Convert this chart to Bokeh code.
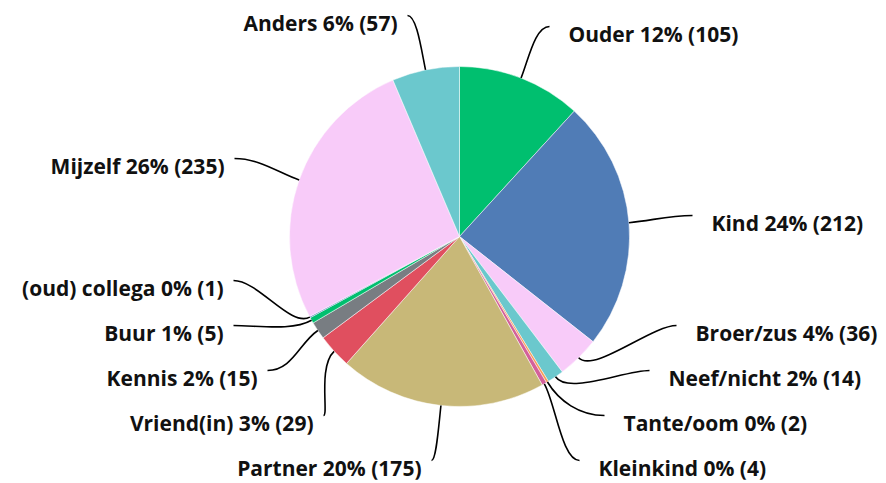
import math
from bokeh.plotting import figure
from bokeh.models import Range1d
from bokeh.core.properties import value
from bokeh.embed import file_html
from bokeh.resources import INLINE

# ---- data ----
categories = ["Ouder", "Kind", "Broer/zus", "Neef/nicht", "Tante/oom", "Kleinkind",
              "Partner", "Vriend(in)", "Kennis", "Buur", "(oud) collega", "Mijzelf", "Anders"]
counts = [105, 212, 36, 14, 2, 4, 175, 29, 15, 5, 1, 235, 57]
colors = ["#00BF6F", "#507CB6", "#F8CBF9", "#6BC8CD", "#F79E56", "#D4609A",
          "#C8B878", "#E04F5F", "#787D82", "#00BF6F", "#507CB6", "#F8CBF9", "#6BC8CD"]

# ---- layout (picture pixel positions of labels) ----
label_px = [568, 711, 695, 668, 623, 598, 421, 313, 257, 223, 223, 224, 397]
label_py = [33, 222, 332, 377, 422, 467, 467, 422, 377, 332, 287, 165, 22]
label_side = ["R", "R", "R", "R", "R", "R", "L", "L", "L", "L", "L", "L", "L"]

W, H = 886, 483
cx_pix, cy_pix, R = 459, 236, 170

def Y(py):
    return H - py

p = figure(width=W, height=H, output_backend="svg", toolbar_location=None,
           x_range=Range1d(0, W), y_range=Range1d(0, H),
           min_border=0)
p.axis.visible = False
p.grid.visible = False
p.outline_line_color = None
p.background_fill_color = "white"

total = sum(counts)
cx, cy = cx_pix, Y(cy_pix)
starts, ends, mids = [], [], []
acc = 0
for c in counts:
    a0 = math.pi / 2 - 2 * math.pi * acc / total
    acc += c
    a1 = math.pi / 2 - 2 * math.pi * acc / total
    starts.append(a0)
    ends.append(a1)
    mids.append((a0 + a1) / 2)

p.wedge(x=[cx] * len(counts), y=[cy] * len(counts), radius=R,
        start_angle=starts, end_angle=ends, direction="clock",
        fill_color=colors, line_color="white", line_width=0.5)

labels = [f"{n} {round(100 * c / total)}% ({c})" for n, c in zip(categories, counts)]

x0s, y0s, x1s, y1s, c0x, c0y, c1x, c1y = [], [], [], [], [], [], [], []
for m, lx, ly, s in zip(mids, label_px, label_py, label_side):
    sx, sy = cx + R * math.cos(m), cy + R * math.sin(m)
    if s == "R":
        ex, ey = lx - 19, Y(ly - 7)
        sgn = -1
    else:
        ex, ey = lx + 10, Y(ly - 7)
        sgn = 1
    k2 = min(25, 0.5 * abs(ex - sx))
    x0s.append(sx); y0s.append(sy)
    x1s.append(ex); y1s.append(ey)
    c0x.append(cx + (R + 22) * math.cos(m)); c0y.append(cy + (R + 22) * math.sin(m))
    c1x.append(ex + sgn * k2); c1y.append(ey)

p.bezier(x0=x0s, y0=y0s, x1=x1s, y1=y1s, cx0=c0x, cy0=c0y, cx1=c1x, cy1=c1y,
         line_color="black", line_width=1.6)

for side, align in (("R", "left"), ("L", "right")):
    idx = [i for i, s in enumerate(label_side) if s == side]
    p.text(x=[label_px[i] for i in idx], y=[Y(label_py[i]) for i in idx],
           text=[labels[i] for i in idx], text_align=align, text_baseline="middle",
           text_font=value("Open Sans"), text_font_style="bold", text_font_size="21px",
           text_color="#111111")

open("out.html", "w").write(file_html(p, INLINE))
